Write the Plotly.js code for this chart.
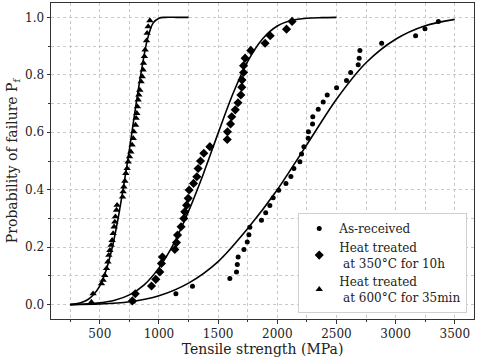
<!DOCTYPE html>
<html><head><meta charset="utf-8">
<script src="https://cdn.plot.ly/plotly-3.0.1.min.js"></script>
<style>html,body{margin:0;padding:0;background:#fff}#chart{width:480px;height:361px}</style>
</head><body><div id="chart"></div>
<script>
// As-received (circles)
const asRecX = [785,1143,1283,1599,1655,1662,1669,1718,1746,1760,1768,1866,1902,1937,1965,2012,2073,2115,2140,2191,2205,2225,2261,2263,2298,2300,2346,2388,2422,2501,2585,2620,2684,2692,2698,2882,3169,3248,3361];
const asRecP = [0.012,0.038,0.064,0.091,0.114,0.140,0.166,0.192,0.218,0.243,0.269,0.294,0.320,0.345,0.372,0.398,0.422,0.446,0.474,0.497,0.524,0.550,0.579,0.602,0.629,0.654,0.680,0.705,0.730,0.755,0.780,0.808,0.835,0.858,0.885,0.910,0.936,0.960,0.986];
// Heat treated 350C 10h (diamonds)
const ht350X = [775,800,937,973,1007,1021,1029,1134,1148,1157,1187,1210,1218,1233,1247,1255,1292,1320,1331,1351,1379,1430,1577,1579,1605,1615,1645,1668,1692,1700,1702,1715,1715,1728,1776,1897,1940,2078,2125];
const ht350P = [0.013,0.038,0.065,0.088,0.114,0.143,0.166,0.192,0.216,0.242,0.271,0.300,0.323,0.346,0.370,0.399,0.422,0.445,0.474,0.500,0.527,0.550,0.575,0.602,0.629,0.654,0.678,0.703,0.730,0.757,0.782,0.808,0.832,0.858,0.885,0.910,0.936,0.959,0.986];
// Heat treated 600C 35min (triangles)
const ht600X = [429,443,514,528,542,557,568,576,585,596,604,613,621,627,632,641,646,692,697,703,712,720,731,740,751,762,773,782,787,802,807,813,818,824,830,838,849,858,866,869,877,883,895,900,909,923];
const ht600P = [0.009,0.038,0.073,0.085,0.102,0.126,0.149,0.172,0.189,0.207,0.224,0.248,0.271,0.288,0.306,0.329,0.346,0.375,0.393,0.410,0.430,0.457,0.474,0.497,0.515,0.532,0.556,0.579,0.602,0.625,0.649,0.666,0.689,0.713,0.730,0.747,0.776,0.794,0.817,0.841,0.864,0.887,0.919,0.945,0.968,0.989];
const fitAsRecX = [250,500,750,1000,1250,1500,1750,2000,2250,2500,2750,3000,3250,3500];
const fitAsRecP = [0,0.002,0.010,0.031,0.075,0.150,0.265,0.400,0.557,0.715,0.842,0.924,0.971,0.993];
const fit350X = [250,375,500,625,750,875,1000,1125,1250,1375,1500,1625,1750,1875,2000,2125,2250,2375,2500];
const fit350P = [0,0.002,0.006,0.015,0.034,0.069,0.128,0.212,0.325,0.455,0.597,0.734,0.847,0.925,0.970,0.990,0.997,0.999,1.0];
const fit600X = [250,300,350,400,450,500,550,600,650,700,750,800,850,900,950,1000,1050,1150,1250];
const fit600P = [0,0.003,0.008,0.018,0.036,0.065,0.115,0.19,0.29,0.41,0.54,0.68,0.81,0.92,0.98,0.997,1.0,1.0,1.0];

const names = ['As-received','Heat treated<br>\u00a0at 350°C for 10h','Heat treated<br>\u00a0at 600°C for 35min'];

const lineStyle = {color:'#000', width:1.6, shape:'spline', smoothing:0.8};
const traces = [
  {x:fitAsRecX, y:fitAsRecP, mode:'lines', line:lineStyle, showlegend:false, hoverinfo:'skip'},
  {x:fit350X, y:fit350P, mode:'lines', line:lineStyle, showlegend:false, hoverinfo:'skip'},
  {x:fit600X, y:fit600P, mode:'lines', line:lineStyle, showlegend:false, hoverinfo:'skip'},
  {x:asRecX, y:asRecP, mode:'markers', name:names[0], marker:{symbol:'circle', size:5, color:'#000'}},
  {x:ht350X, y:ht350P, mode:'markers', name:names[1], marker:{symbol:'diamond', size:7, color:'#000'}},
  {x:ht600X, y:ht600P, mode:'markers', name:names[2], marker:{symbol:'triangle-up', size:6.5, color:'#000'}}
];

const fontFam = '"DejaVu Serif", serif';
const gridCol = '#c8c8c8';
const layout = {
  width:480, height:361,
  margin:{l:51, r:6, t:3, b:42},
  paper_bgcolor:'#fff', plot_bgcolor:'#fff',
  font:{family:fontFam, size:12, color:'#222'},
  showlegend:true,
  legend:{x:0.984, xanchor:'right', y:0.019, yanchor:'bottom', bgcolor:'#fff', bordercolor:'#d0d0d0', borderwidth:1, font:{family:fontFam, size:12, color:'#222'}, tracegroupgap:0},
  xaxis:{range:[87.5,3662.5], tick0:500, dtick:500, ticks:'outside', ticklen:3.5, tickcolor:'#333',
    showline:true, mirror:true, linecolor:'#333', linewidth:1, zeroline:false,
    showgrid:true, gridcolor:gridCol, griddash:'dot', gridwidth:1,
    minor:{tick0:250, dtick:250, ticks:'outside', ticklen:2, tickcolor:'#333', showgrid:true, gridcolor:gridCol, griddash:'dot', gridwidth:1},
    tickfont:{size:12}, title:{text:'Tensile strength (MPa)', font:{size:14}, standoff:3}},
  yaxis:{range:[-0.05,1.05], tick0:0, dtick:0.2, tickformat:'.1f', ticks:'outside', ticklen:3.5, tickcolor:'#333',
    showline:true, mirror:true, linecolor:'#333', linewidth:1, zeroline:false,
    showgrid:true, gridcolor:gridCol, griddash:'dot', gridwidth:1,
    minor:{tick0:0, dtick:0.1, ticks:'outside', ticklen:2, tickcolor:'#333', showgrid:true, gridcolor:gridCol, griddash:'dot', gridwidth:1},
    tickfont:{size:12}, title:{text:'Probability of failure P<sub>f</sub>', font:{size:14}, standoff:4}}
};
Plotly.newPlot('chart', traces, layout, {staticPlot:true});
</script></body></html>
